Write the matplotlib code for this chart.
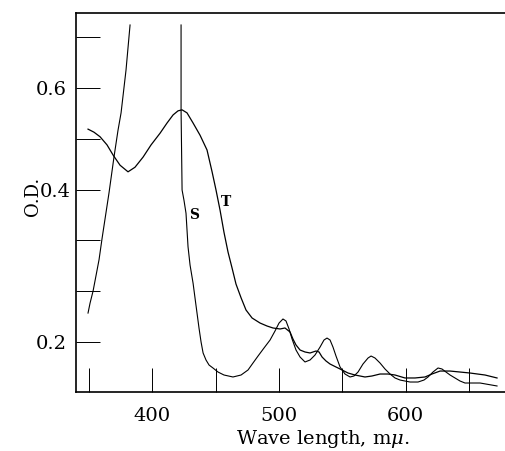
import numpy as np
import matplotlib
matplotlib.use('Agg')
import matplotlib.pyplot as plt
import matplotlib.transforms as mtransforms

plt.rcParams['font.family'] = 'DejaVu Serif'
plt.rcParams['mathtext.fontset'] = 'dejavuserif'

# Curve S (goes off scale between ~384 and ~423 m-mu, gap left as nan)
s_wl = [349.2, 350.8, 353.2, 355.5, 357.9, 360.3, 365.8, 369.7, 372.9, 375.3, 379.2, 382.4,
        np.nan,
        422.7, 422.7, 423.5, 425.0, 426.6, 428.2, 429.8, 432.2, 433.7, 435.3, 436.9, 438.5,
        440.1, 442.4, 444.8, 447.9, 451.9, 456.6, 463.7, 470.1, 475.6, 479.5, 483.5, 488.2,
        493.0, 496.9, 500.1, 503.2, 505.6, 508.0, 510.4, 513.5, 516.7, 520.6, 524.6, 528.5,
        532.5, 535.6, 538.0, 540.4, 542.7, 545.1, 548.3, 552.2, 556.2, 559.3, 562.5, 566.4,
        570.4, 572.8, 575.9, 579.9, 583.8, 587.8, 591.7, 595.7, 603.6, 609.9, 614.6, 617.8,
        621.7, 625.7, 628.8, 632.0, 635.2, 639.1, 643.1, 647.0, 658.9, 672.3]
s_od = [0.238, 0.251, 0.267, 0.287, 0.308, 0.336, 0.396, 0.464, 0.517, 0.551, 0.635, 0.724,
        np.nan,
        0.724, 0.557, 0.3995, 0.386, 0.369, 0.325, 0.301, 0.277, 0.258, 0.238, 0.218, 0.200,
        0.1856, 0.1764, 0.1698, 0.1659, 0.1606, 0.1567, 0.1541, 0.1567, 0.1633, 0.1724, 0.1816, 0.1921,
        0.2026, 0.2144, 0.2249, 0.2302, 0.2276, 0.2171, 0.2039, 0.1895, 0.1803, 0.1738, 0.1764, 0.1829,
        0.1934, 0.2026, 0.2052, 0.2026, 0.1934, 0.1816, 0.1672, 0.1580, 0.1541, 0.1554, 0.1606, 0.1711,
        0.1790, 0.1816, 0.1790, 0.1724, 0.1646, 0.1580, 0.1528, 0.1501, 0.1475, 0.1475, 0.1501, 0.1541,
        0.1606, 0.1659, 0.1646, 0.1606, 0.1567, 0.1528, 0.1488, 0.1462, 0.1462, 0.1423]

# Curve T
t_wl = [349.2, 353.9, 358.7, 364.2, 369.0, 374.5, 380.8, 386.3, 392.7, 399.0, 406.1, 411.6,
        416.4, 420.3, 423.5, 427.4, 432.2, 437.7, 443.2, 447.2, 450.3, 453.5, 456.6, 459.8,
        463.0, 466.1, 470.1, 474.0, 478.8, 485.1, 490.6, 495.3, 500.9, 504.8, 508.8, 511.1,
        513.5, 516.7, 520.6, 524.6, 529.3, 531.7, 534.1, 537.2, 540.4, 545.1, 549.9, 554.6,
        560.1, 568.0, 573.5, 579.9, 586.2, 591.7, 599.6, 607.5, 615.4, 620.9, 627.3, 635.2,
        643.1, 651.0, 662.8, 672.3]
t_od = [0.519, 0.513, 0.504, 0.488, 0.468, 0.448, 0.435, 0.444, 0.464, 0.488, 0.511, 0.531,
        0.547, 0.555, 0.557, 0.551, 0.531, 0.507, 0.478, 0.435, 0.3995, 0.373, 0.344, 0.318,
        0.297, 0.276, 0.258, 0.242, 0.2315, 0.2249, 0.221, 0.2184, 0.2171, 0.2184, 0.2131, 0.2039,
        0.1961, 0.1895, 0.1869, 0.1856, 0.1882, 0.1869, 0.1803, 0.1751, 0.1711, 0.1672, 0.1633, 0.1593,
        0.1567, 0.1541, 0.1554, 0.1580, 0.1580, 0.1567, 0.1528, 0.1528, 0.1541, 0.1580, 0.1619, 0.1619,
        0.1606, 0.1593, 0.1567, 0.1528]

x_ticks = [350, 400, 450, 500, 550, 600, 650]
x_labels = ['', '400', '', '500', '', '600', '']
y_ticks = [0.2, 0.2667, 0.3333, 0.4, 0.5, 0.6, 0.7]
y_labels = ['0.2', '', '', '0.4', '', '0.6', '']

# the printed O.D. axis is not uniform: spacing changes at 0.4
od_pts = [0.0, 0.2, 0.4, 0.6, 2.0]
u_pts = [-3.0, 0.0, 3.0, 5.0, 19.0]


def fwd(v):
    return np.interp(v, od_pts, u_pts)


def inv(u):
    return np.interp(u, u_pts, od_pts)


fig = plt.figure(figsize=(5.06, 4.51), dpi=100)
ax = fig.add_axes([76 / 506, 1 - 392 / 451, (505 - 76) / 506, (392 - 13) / 451])
ax.set_yscale('function', functions=(fwd, inv))

ax.plot(s_wl, s_od, color='black', linewidth=0.8)
ax.plot(t_wl, t_od, color='black', linewidth=0.9)

ax.text(432.9, 0.367, 'S', fontsize=10, fontweight='bold', ha='center', va='center')
ax.text(458.2, 0.384, 'T', fontsize=10, fontweight='bold', ha='center', va='center')

ax.set_xlim(339.7, 678.6)
ax.set_ylim(0.1344, 0.7476)

ax.set_xticks(x_ticks)
ax.set_xticklabels(x_labels)
ax.set_yticks(y_ticks)
ax.set_yticklabels(y_labels)
ax.yaxis.set_minor_locator(matplotlib.ticker.NullLocator())
ax.tick_params(axis='both', direction='in', length=17, width=0.7, labelsize=14)
ax.tick_params(axis='x', pad=10.5)
ax.tick_params(axis='y', pad=6.5)

ax.spines['right'].set_visible(False)
for s in ['left', 'top', 'bottom']:
    ax.spines[s].set_linewidth(1.2)

# the 0.4 label sits a little further right in the original print
for lab in ax.get_yticklabels():
    if lab.get_text() == '0.4':
        lab.set_transform(lab.get_transform() +
                          mtransforms.ScaledTranslation(4 / 100, 0, fig.dpi_scale_trans))

ax.set_ylabel('O.D.', fontsize=13, va='center')
ax.yaxis.set_label_coords(-0.100, 0.517)
ax.set_xlabel(r'Wave length, m$\mu$.', fontsize=14, va='center')
ax.xaxis.set_label_coords(0.576, -0.125)

fig.savefig('out.png', dpi=100)
